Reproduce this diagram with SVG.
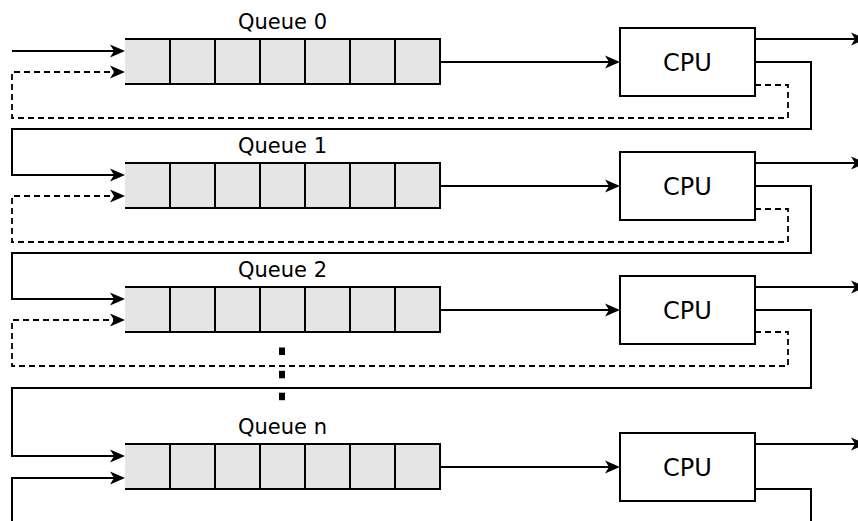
<svg xmlns="http://www.w3.org/2000/svg" width="858" height="521" viewBox="0 0 858 521">
  <defs>
    <marker id="arr" markerUnits="userSpaceOnUse" markerWidth="15" markerHeight="13" viewBox="0 0 15 13" refX="10" refY="6.5" orient="auto" overflow="visible">
      <path d="M0,0 L15,6.5 L0,13 L4,6.5 Z" fill="#000"/>
    </marker>
    <g id="queue">
      <rect x="125" y="0" width="315" height="45" fill="#e5e5e5" stroke="none"/>
      <path d="M125,0 H440 V45 H125 M170,0 V45 M215,0 V45 M260,0 V45 M305,0 V45 M350,0 V45 M395,0 V45" fill="none" stroke="#000" stroke-width="2"/>
    </g>
  </defs>
  <style>
    .ln { fill: none; stroke: #000; stroke-width: 2; }
    .ds { fill: none; stroke: #000; stroke-width: 1.8; stroke-dasharray: 6 4; }
    .cpu { fill: #fff; stroke: #000; stroke-width: 2; }
    .lbl { font-family: "DejaVu Sans", sans-serif; font-size: 21px; fill: #000; text-anchor: middle; }
    .cput { font-family: "DejaVu Sans", sans-serif; font-size: 24px; fill: #000; text-anchor: middle; }
  </style>
  <rect width="858" height="521" fill="#fff"/>

  <g id="connectors">
    <!-- row 0 -->
    <path class="ln" d="M12,51 H120" marker-end="url(#arr)"/>
    <path class="ds" d="M755,85 H788 V118 H12 V72 H120" marker-end="url(#arr)"/>
    <path class="ln" d="M440,62 H615" marker-end="url(#arr)"/>
    <path class="ln" d="M755,39 H861" marker-end="url(#arr)"/>
    <path class="ln" d="M755,62 H811 V129 H12 V175 H120" marker-end="url(#arr)"/>
    <!-- row 1 -->
    <path class="ds" d="M755,209 H788 V242 H12 V196 H120" marker-end="url(#arr)"/>
    <path class="ln" d="M440,186 H615" marker-end="url(#arr)"/>
    <path class="ln" d="M755,163 H861" marker-end="url(#arr)"/>
    <path class="ln" d="M755,186 H811 V253 H12 V299 H120" marker-end="url(#arr)"/>
    <!-- row 2 -->
    <path class="ds" d="M755,332 H788 V366 H12 V320 H120" marker-end="url(#arr)"/>
    <path class="ln" d="M440,310 H615" marker-end="url(#arr)"/>
    <path class="ln" d="M755,287 H861" marker-end="url(#arr)"/>
    <path class="ln" d="M755,310 H811 V388 H12 V456 H120" marker-end="url(#arr)"/>
    <!-- row n -->
    <path class="ln" d="M12,525 V478 H120" marker-end="url(#arr)"/>
    <path class="ln" d="M440,467 H615" marker-end="url(#arr)"/>
    <path class="ln" d="M755,444 H861" marker-end="url(#arr)"/>
    <path class="ln" d="M755,489 H811 V525"/>
  </g>

  <g id="queue0">
    <use href="#queue" y="39"/>
    <text class="lbl" x="282.5" y="29">Queue 0</text>
  </g>
  <g id="cpu0">
    <rect class="cpu" x="620" y="28" width="135" height="68"/>
    <text class="cput" x="687.5" y="71">CPU</text>
  </g>

  <g id="queue1">
    <use href="#queue" y="163"/>
    <text class="lbl" x="282.5" y="153">Queue 1</text>
  </g>
  <g id="cpu1">
    <rect class="cpu" x="620" y="152" width="135" height="68"/>
    <text class="cput" x="687.5" y="195">CPU</text>
  </g>

  <g id="queue2">
    <use href="#queue" y="287"/>
    <text class="lbl" x="282.5" y="277">Queue 2</text>
  </g>
  <g id="cpu2">
    <rect class="cpu" x="620" y="276" width="135" height="68"/>
    <text class="cput" x="687.5" y="319">CPU</text>
  </g>

  <g id="ellipsis">
    <rect x="279" y="347.5" width="6" height="7.5" fill="#000"/>
    <rect x="279" y="370.8" width="6" height="7.5" fill="#000"/>
    <rect x="279" y="392.7" width="6" height="7.5" fill="#000"/>
  </g>

  <g id="queuen">
    <use href="#queue" y="444"/>
    <text class="lbl" x="282.5" y="434">Queue n</text>
  </g>
  <g id="cpun">
    <rect class="cpu" x="620" y="433" width="135" height="68"/>
    <text class="cput" x="687.5" y="476">CPU</text>
  </g>
</svg>
